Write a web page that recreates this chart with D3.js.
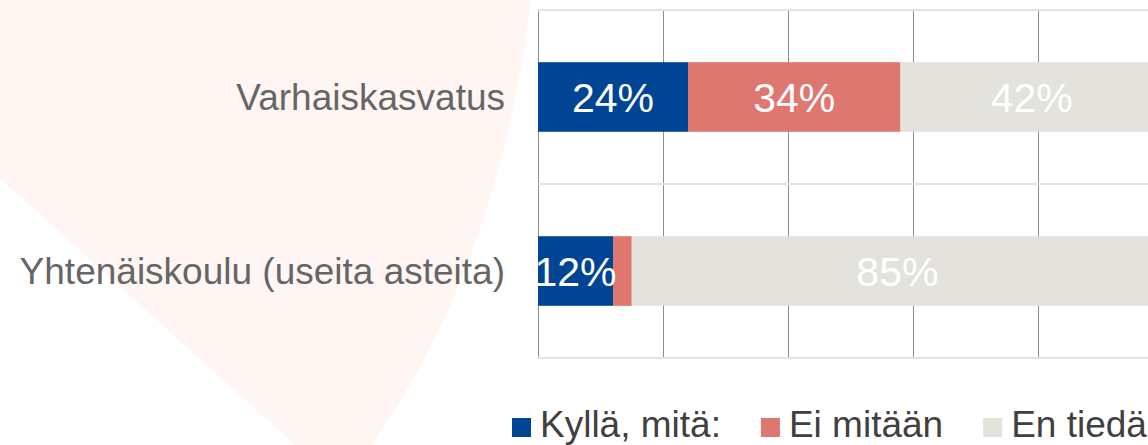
<!DOCTYPE html>
<html>
<head>
<meta charset="utf-8">
<script src="https://cdn.jsdelivr.net/npm/d3@7"></script>
<style>
  body { margin: 0; background: #fff; }
  svg { display: block; font-family: Arial, "Liberation Sans", sans-serif; }
</style>
</head>
<body>
<div id="vis"></div>
<script>
// chart data
var categories = ['Varhaiskasvatus', 'Yhtenäiskoulu (useita asteita)'];
var seriesNames = ['Kyllä, mitä:', 'Ei mitään', 'En tiedä'];
var seriesColors = ['#004593', '#dd7770', '#e3e2dd'];
var kylla = [24, 12];
var eiMitaan = [34, 3];
var enTieda = [42, 85];
var gridTicks = [0, 20, 40, 60, 80, 100];

var width = 1148,
    height = 445;

var margin = { left: 538, top: 10, bottom: 87 };
var drawHeight = height - margin.top - margin.bottom;

var svg = d3.select('#vis')
            .append('svg')
            .attr('width', width)
            .attr('height', height);

// faint background shape
svg.append('path')
   .attr('d', 'M0,0 L531,0 Q500,260 372,445 L295,445 L0,178 Z')
   .attr('fill', '#fff6f3');

var xScale = d3.scaleLinear()
               .domain([0, 100])
               .range([margin.left, margin.left + 625]);

var yScale = d3.scaleBand()
               .domain(categories)
               .range([margin.top, margin.top + drawHeight])
               .paddingInner(0.6)
               .paddingOuter(0.3);

var step = yScale.step();

// vertical grid lines
svg.append('g')
   .selectAll('line')
   .data(gridTicks)
   .enter()
   .append('line')
   .attr('x1', (d) => xScale(d) + 0.5)
   .attr('x2', (d) => xScale(d) + 0.5)
   .attr('y1', margin.top)
   .attr('y2', margin.top + drawHeight)
   .style('stroke', '#8c8c8c')
   .style('stroke-width', 1);

// horizontal band borders
var borders = [margin.top].concat(categories.map((c) => yScale(c) - yScale.paddingOuter() * step + step));
svg.append('g')
   .selectAll('line')
   .data(borders)
   .enter()
   .append('line')
   .attr('x1', margin.left)
   .attr('x2', width)
   .attr('y1', (d) => d)
   .attr('y2', (d) => d)
   .style('stroke', '#e3e3e3')
   .style('stroke-width', 2);

// stacked segments
var rows = categories.map((c, i) => ({ cat: c, values: [kylla[i], eiMitaan[i], enTieda[i]] }));
rows.forEach((r) => {
    var acc = 0;
    r.segs = r.values.map((v, j) => {
        var s = { cat: r.cat, v: v, x0: acc, x1: acc + v, j: j };
        acc += v;
        return s;
    });
});
var segs = rows.flatMap((r) => r.segs);

svg.append('g')
   .selectAll('rect')
   .data(segs)
   .enter()
   .append('rect')
   .attr('x', (d) => xScale(d.x0))
   .attr('width', (d) => xScale(d.x1) - xScale(d.x0))
   .attr('y', (d) => yScale(d.cat))
   .attr('height', yScale.bandwidth())
   .attr('fill', (d) => seriesColors[d.j]);

svg.append('g')
   .selectAll('text')
   .data(segs.filter((d) => d.v >= 5))
   .enter()
   .append('text')
   .attr('x', (d) => (xScale(d.x0) + xScale(d.x1)) / 2)
   .attr('y', (d) => yScale(d.cat) + yScale.bandwidth() / 2)
   .attr('dy', '0.36em')
   .attr('text-anchor', 'middle')
   .style('font-size', '41px')
   .style('fill', '#fff')
   .text((d) => d.v + '%');

// category labels
svg.append('g')
   .selectAll('text')
   .data(categories)
   .enter()
   .append('text')
   .attr('x', 505)
   .attr('y', (d) => yScale(d) + yScale.bandwidth() / 2)
   .attr('dy', '0.36em')
   .attr('text-anchor', 'end')
   .style('font-size', '37px')
   .style('fill', '#666666')
   .text((d) => d);

// legend
var legend = svg.append('g').attr('class', 'legend');
var lx = 512;
seriesNames.forEach((name, i) => {
    legend.append('rect')
          .attr('x', lx)
          .attr('y', 418)
          .attr('width', 19)
          .attr('height', 19)
          .attr('fill', seriesColors[i]);
    var t = legend.append('text')
                  .attr('x', lx + 28)
                  .attr('y', 437)
                  .style('font-size', '37px')
                  .style('fill', '#404040')
                  .text(name);
    lx = lx + 28 + t.node().getComputedTextLength() + 40;
});
</script>
</body>
</html>
